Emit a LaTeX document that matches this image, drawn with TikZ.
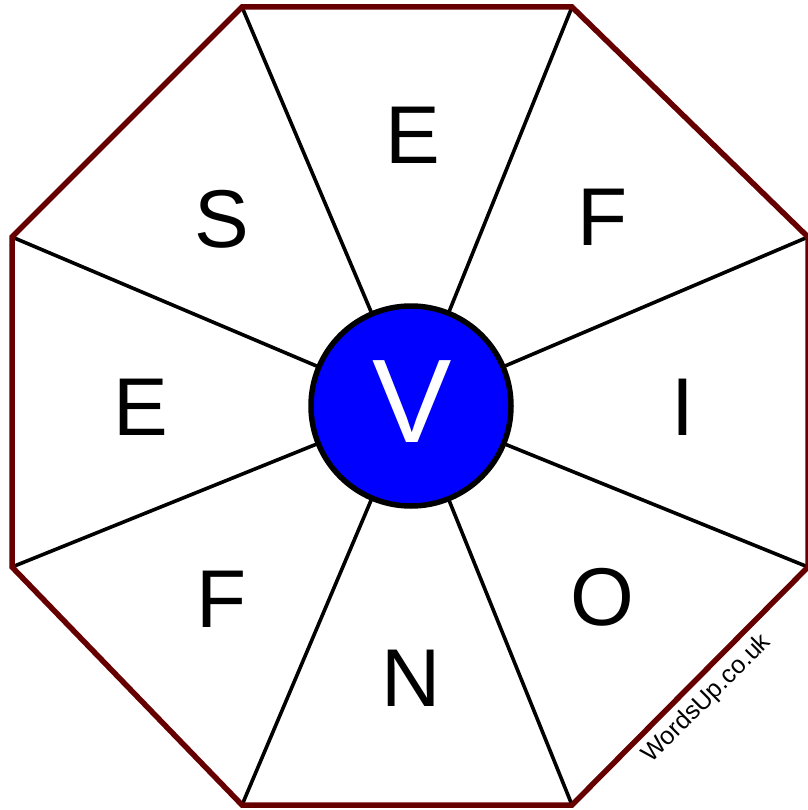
\documentclass[tikz,border=0pt]{standalone}
\usepackage{fontspec}
\setmainfont{Liberation Sans}
\begin{document}
\begin{tikzpicture}[x=1pt,y=-1pt,
  rim/.style={draw={rgb,255:red,102;green,0;blue,0},line width=5.5pt,line join=miter},
  spoke/.style={draw=black,line width=3.6pt},
  hub/.style={circle,draw=black,line width=5.5pt,fill={rgb,255:red,0;green,0;blue,255},minimum size=200pt,inner sep=0pt},
  letter/.style={font=\fontsize{82}{82}\selectfont,inner sep=0pt,text height=58.6pt,text depth=0pt},
  credit/.style={font=\fontsize{25}{25}\selectfont,inner sep=0pt,rotate=45}]
\useasboundingbox (0,0) rectangle (807,810);
\coordinate (p1) at (242,7);
\coordinate (p2) at (572,7);
\coordinate (p3) at (808,237);
\coordinate (p4) at (808,567);
\coordinate (p5) at (572,805);
\coordinate (p6) at (242,805);
\coordinate (p7) at (12,567);
\coordinate (p8) at (12,237);
\coordinate (c) at (411,406);
\foreach \p in {p1,p2,p3,p4,p5,p6,p7,p8} \draw[spoke] (\p) -- (c);
\draw[rim] (p1) -- (p2) -- (p3) -- (p4) -- (p5) -- (p6) -- (p7) -- (p8) -- cycle;
\node[hub] (hubnode) at (c) {};
\node[letter,text=white,font=\fontsize{119}{119}\selectfont,text height=85pt] (v) at (412,400) {V};
\node[letter] (l1) at (413,134) {E};
\node[letter] (l2) at (603,216) {F};
\node[letter] (l3) at (683,406) {I};
\node[letter] (l4) at (602,596) {O};
\node[letter] (l5) at (411,677) {N};
\node[letter] (l6) at (222,598) {F};
\node[letter] (l7) at (141,406) {E};
\node[letter] (l8) at (222,218) {S};
\node[credit] (wu) at (707,699) {WordsUp.co.uk};
\end{tikzpicture}
\end{document}
